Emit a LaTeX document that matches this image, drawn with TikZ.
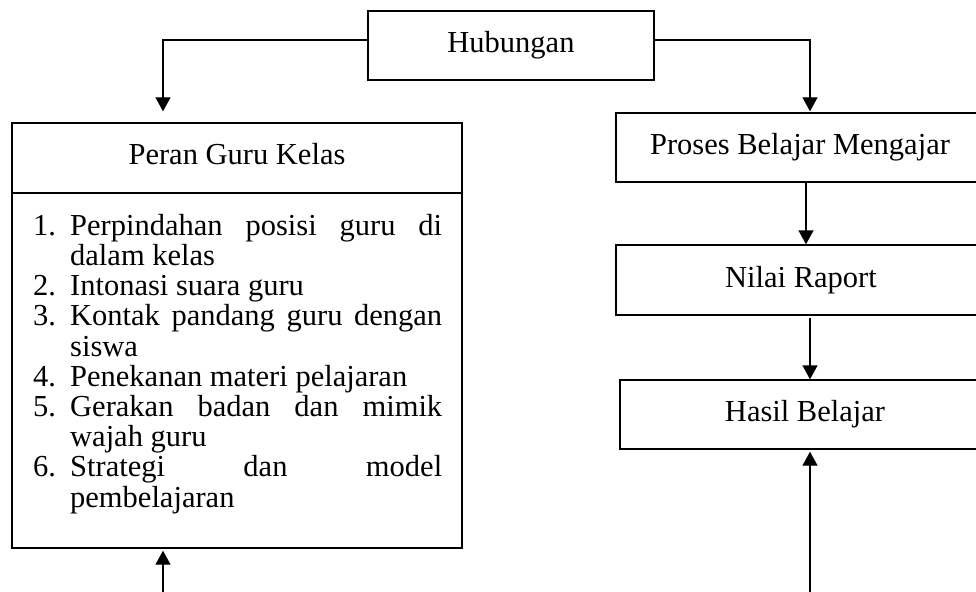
\documentclass[tikz,border=0pt]{standalone}
\usepackage{fontspec}
\setmainfont{Liberation Serif}
\usetikzlibrary{arrows.meta}
\begin{document}
\begin{tikzpicture}[x=1pt,y=-1pt,
  every node/.style={font=\fontsize{30.5}{30.2}\selectfont},
  box/.style={draw, line width=1.4pt, inner sep=0pt, text height=20pt, text depth=6pt, align=center},
  ttl/.style={inner sep=0pt, text height=20pt, text depth=6pt},
  conn/.style={line width=1.4pt, -{Triangle[length=14pt,width=15pt]}}]
\clip (0,0) rectangle (976,591);
% boxes
\node[box, minimum width=286pt, minimum height=69pt] (hub) at (511,45.5) {Hubungan};
\node[box, minimum width=450pt, minimum height=425pt] (peran) at (237,335.5) {};
\node[ttl] (ptitle) at (237,157) {Peran Guru Kelas};
\coordinate (dv) at (0,193);
\draw[line width=1.4pt] (peran.west |- dv) -- (peran.east |- dv);
\node[anchor=north west, inner sep=0pt, text width=409pt, align=justify] (lst) at (33,214) {%
\hyphenpenalty=10000 \parskip=0pt
\hangindent=37pt\hangafter=1\noindent\makebox[37pt][l]{1.}Perpindahan posisi guru di\linebreak dalam kelas\par
\hangindent=37pt\hangafter=1\noindent\makebox[37pt][l]{2.}Intonasi suara guru\par
\hangindent=37pt\hangafter=1\noindent\makebox[37pt][l]{3.}Kontak pandang guru dengan\linebreak siswa\par
\hangindent=37pt\hangafter=1\noindent\makebox[37pt][l]{4.}Penekanan materi pelajaran\par
\hangindent=37pt\hangafter=1\noindent\makebox[37pt][l]{5.}Gerakan badan dan mimik\linebreak wajah guru\par
\hangindent=37pt\hangafter=1\noindent\makebox[37pt][l]{6.}Strategi dan model\linebreak pembelajaran\par}; 
\node[box, minimum width=368pt, minimum height=69pt] (proses) at (800,147.5) {Proses Belajar Mengajar};
\node[box, minimum width=370pt, minimum height=70pt] (nilai) at (801,280) {Nilai Raport};
\node[box, minimum width=370pt, minimum height=69pt] (hasil) at (805,414.5) {Hasil Belajar};
% free ends
\coordinate (pb) at (163,600);
\coordinate (hb) at (810,600);
% connectors
\draw[conn] ([yshift=5.5pt]hub.west) -| ([xshift=-74pt,yshift=11pt]peran.north);
\draw[conn] ([yshift=5.5pt]hub.east) -| ([xshift=10pt,yshift=1pt]proses.north);
\draw[conn] ([xshift=6pt]proses.south) -- ([xshift=5pt]nilai.north);
\draw[conn] ([xshift=9pt,yshift=-2pt]nilai.south) -- ([xshift=5pt]hasil.north);
\draw[conn] (hb) -- ([xshift=5pt,yshift=-2pt]hasil.south);
\draw[conn] (pb) -- ([xshift=-74pt,yshift=-2pt]peran.south);
\end{tikzpicture}
\end{document}
